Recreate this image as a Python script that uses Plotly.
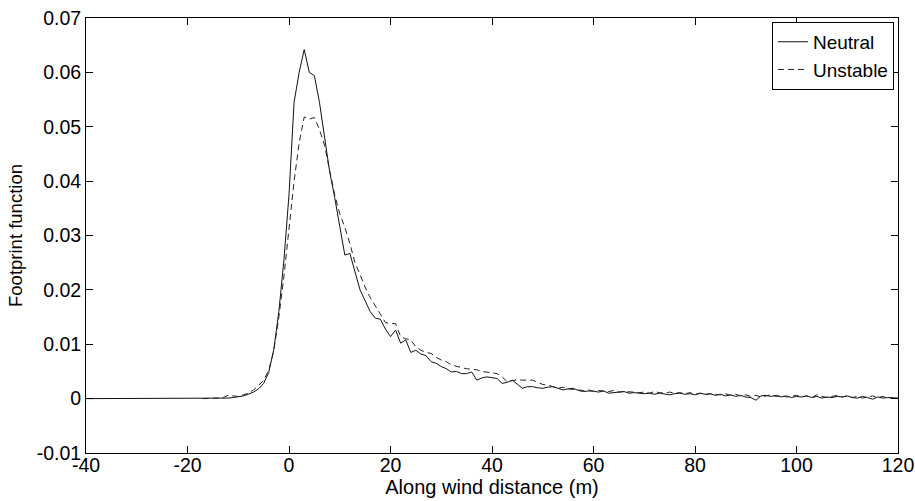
import plotly.graph_objects as go

# ---- data ----
neutral_x = [
    -40, -39, -38, -37, -36, -35, -34, -33, -32, -31,
    -30, -29, -28, -27, -26, -25, -24, -23, -22, -21,
    -20, -19, -18, -17, -16, -15, -14, -13, -12, -11,
    -10, -9, -8, -7, -6, -5, -4, -3, -2, -1,
    0, 1, 2, 3, 4, 5, 6, 7, 8, 9,
    10, 11, 12, 13, 14, 15, 16, 17, 18, 19,
    20, 21, 22, 23, 24, 25, 26, 27, 28, 29,
    30, 31, 32, 33, 34, 35, 36, 37, 38, 39,
    40, 41, 42, 43, 44, 45, 46, 47, 48, 49,
    50, 51, 52, 53, 54, 55, 56, 57, 58, 59,
    60, 61, 62, 63, 64, 65, 66, 67, 68, 69,
    70, 71, 72, 73, 74, 75, 76, 77, 78, 79,
    80, 81, 82, 83, 84, 85, 86, 87, 88, 89,
    90, 91, 92, 93, 94, 95, 96, 97, 98, 99,
    100, 101, 102, 103, 104, 105, 106, 107, 108, 109,
    110, 111, 112, 113, 114, 115, 116, 117, 118, 119,
    120,
]
neutral_y = [
    0, 0, 0, 0, 0, 0, 0, 0, 0, 0,
    0, 0, 0, 0, 0, 0, 0, 0, 0, 0,
    0, 0, 0, 0, 0, 0, 0, 0, 0.0001, 0.0002,
    0.0003, 0.0005, 0.0008, 0.0012, 0.0018, 0.0028, 0.0048, 0.0090, 0.0160, 0.0255,
    0.0375, 0.0545, 0.0600, 0.0642, 0.0600, 0.0594, 0.0545, 0.0480, 0.0418, 0.0370,
    0.0320, 0.0264, 0.0267, 0.0232, 0.0200, 0.0180, 0.0160, 0.0148, 0.0146, 0.0128,
    0.0114, 0.0126, 0.0102, 0.0108, 0.0085, 0.0089, 0.0082, 0.0079, 0.0068, 0.0065,
    0.0059, 0.0055, 0.0049, 0.0050, 0.0046, 0.0046, 0.0049, 0.0034, 0.0038, 0.0040,
    0.0038, 0.0037, 0.0028, 0.0030, 0.0034, 0.0026, 0.0019, 0.0022, 0.0022, 0.0020,
    0.0019, 0.0021, 0.0022, 0.0019, 0.0016, 0.0018, 0.0019, 0.0015, 0.0013, 0.0014,
    0.0014, 0.0012, 0.0014, 0.0010, 0.0011, 0.0012, 0.0013, 0.0010, 0.0011, 0.0010,
    0.0009, 0.0010, 0.0008, 0.0010, 0.0009, 0.0007, 0.0009, 0.0010, 0.0008, 0.0009,
    0.0007, 0.0010, 0.0008, 0.0009, 0.0006, 0.0008, 0.0005, 0.0007, 0.0004, 0.0006,
    0.0003, 0.0002, -0.0003, 0.0005, 0.0006, 0.0004, 0.0006, 0.0003, 0.0005, 0.0002,
    0.0004, 0.0003, 0.0005, 0.0002, 0.0004, 0.0001, 0.0003, 0.0002, 0.0004, 0.0003,
    0.0005, 0.0002, 0.0001, 0.0004, 0.0002, -0.0001, 0.0003, 0.0001, 0.0002, 0.0002,
    0.0001,
]

unstable_x = [
    -17, -16, -15, -14, -13, -12, -11, -10, -9, -8,
    -7, -6, -5, -4, -3, -2, -1, 0, 1, 2,
    3, 4, 5, 6, 7, 8, 9, 10, 11, 12,
    13, 14, 15, 16, 17, 18, 19, 20, 21, 22,
    23, 24, 25, 26, 27, 28, 29, 30, 31, 32,
    33, 34, 35, 36, 37, 38, 39, 40, 41, 42,
    43, 44, 45, 46, 47, 48, 49, 50, 51, 52,
    53, 54, 55, 56, 57, 58, 59, 60, 61, 62,
    63, 64, 65, 66, 67, 68, 69, 70, 71, 72,
    73, 74, 75, 76, 77, 78, 79, 80, 81, 82,
    83, 84, 85, 86, 87, 88, 89, 90, 91, 92,
    93, 94, 95, 96, 97, 98, 99, 100, 101, 102,
    103, 104, 105, 106, 107, 108, 109, 110, 111, 112,
    113, 114, 115, 116, 117, 118, 119,
]
unstable_y = [
    0, 0, 0.0001, 0.0001, 0.0002, 0.0006, 0.0005, 0.0004, 0.0007, 0.0010,
    0.0016, 0.0024, 0.0034, 0.0052, 0.0088, 0.0150, 0.0225, 0.0310, 0.0400, 0.0470,
    0.0518, 0.0514, 0.0517, 0.0495, 0.0466, 0.0420, 0.0375, 0.0340, 0.0315, 0.0285,
    0.0250, 0.0228, 0.0205, 0.0186, 0.0170, 0.0155, 0.0140, 0.0138, 0.0138, 0.0114,
    0.0110, 0.0108, 0.0095, 0.0089, 0.0085, 0.0083, 0.0076, 0.0071, 0.0068, 0.0062,
    0.0059, 0.0057, 0.0055, 0.0054, 0.0053, 0.0050, 0.0049, 0.0047, 0.0046, 0.0040,
    0.0031, 0.0033, 0.0035, 0.0034, 0.0034, 0.0034, 0.0030, 0.0026, 0.0025, 0.0022,
    0.0019, 0.0021, 0.0018, 0.0017, 0.0016, 0.0015, 0.0016, 0.0013, 0.0015, 0.0014,
    0.0013, 0.0015, 0.0012, 0.0013, 0.0013, 0.0012, 0.0011, 0.0012, 0.0010, 0.0013,
    0.0011, 0.0010, 0.0012, 0.0010, 0.0011, 0.0009, 0.0011, 0.0008, 0.0010, 0.0007,
    0.0009, 0.0008, 0.0007, 0.0009, 0.0006, 0.0008, 0.0005, 0.0007, 0.0004, 0.0006,
    0.0003, 0.0005, 0.0007, 0.0004, 0.0006, 0.0003, 0.0005, 0.0006, 0.0003, 0.0005,
    0.0002, 0.0007, 0.0004, 0.0002, 0.0004, 0.0006, 0.0003, 0.0005, 0.0002, 0.0004,
    0.0001, 0.0003, 0.0005, 0.0002, 0.0004, 0.0001, 0.0002,
]

x_tickvals = [-40, -20, 0, 20, 40, 60, 80, 100, 120]
x_ticktext = ["-40", "-20", "0", "20", "40", "60", "80", "100", "120"]
y_tickvals = [-0.01, 0, 0.01, 0.02, 0.03, 0.04, 0.05, 0.06, 0.07]
y_ticktext = ["-0.01", "0", "0.01", "0.02", "0.03", "0.04", "0.05", "0.06", "0.07"]

assert len(neutral_x) == len(neutral_y)
assert len(unstable_x) == len(unstable_y)

FONT = "Liberation Sans, Arial, Helvetica, sans-serif"

fig = go.Figure()
fig.add_trace(go.Scatter(
    x=neutral_x, y=neutral_y, mode="lines", name="Neutral",
    line=dict(color="#111111", width=1),
))
fig.add_trace(go.Scatter(
    x=unstable_x, y=unstable_y, mode="lines", name="Unstable",
    line=dict(color="#222222", width=1, dash="6px,4px"),
))

axis_common = dict(
    showgrid=False, zeroline=False, showline=True, linecolor="black",
    linewidth=1, mirror="ticks", ticks="inside", ticklen=7,
    tickcolor="black", tickwidth=1, automargin=False,
    ticklabeloverflow="allow",
    tickfont=dict(family=FONT, size=19.5, color="black"),
)

fig.update_layout(
    width=915, height=501,
    margin=dict(l=86, r=17, t=18, b=48),
    paper_bgcolor="white", plot_bgcolor="white",
    font=dict(family=FONT, color="black"),
    showlegend=True,
    legend=dict(
        x=0.995, xanchor="right", y=0.991, yanchor="top",
        bordercolor="black", borderwidth=1, bgcolor="white",
        font=dict(family=FONT, size=19, color="black"),
        itemwidth=30, tracegroupgap=0,
    ),
    xaxis=dict(
        range=[-40, 120], tickvals=x_tickvals, ticktext=x_ticktext,
        ticklabelstandoff=-5,
        title=dict(text="Along wind distance (m)",
                   font=dict(family=FONT, size=20, color="black"), standoff=0),
        **axis_common,
    ),
    yaxis=dict(
        range=[-0.01, 0.07], tickvals=y_tickvals, ticktext=y_ticktext,
        title=dict(text="Footprint function",
                   font=dict(family=FONT, size=18.5, color="black"), standoff=9),
        **axis_common,
    ),
)

# remove the default page margin so the figure sits at the window's corner
fig.write_html(
    "out.html",
    config={"displayModeBar": False},
    post_script="document.body.style.margin='0';",
)
